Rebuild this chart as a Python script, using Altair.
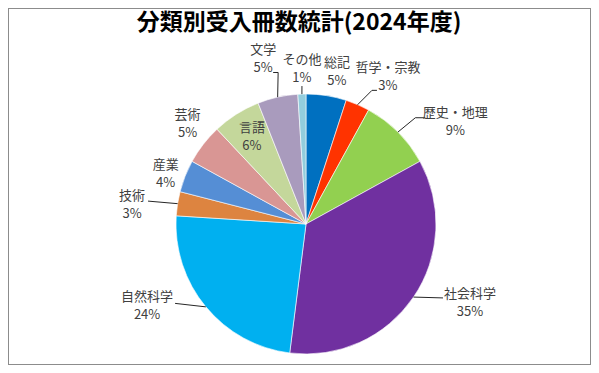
import math
import altair as alt
import pandas as pd

# ---- data ----
categories = ["総記", "哲学・宗教", "歴史・地理", "社会科学", "自然科学", "技術",
              "産業", "芸術", "言語", "文学", "その他"]
shares = [5, 3, 9, 35, 24, 3, 4, 5, 6, 5, 1]
pct_labels = ["5%", "3%", "9%", "35%", "24%", "3%", "4%", "5%", "6%", "5%", "1%"]
title_text = "分類別受入冊数統計(2024年度)"

# ---- style / layout ----
colors = ["#0070C0", "#FF3300", "#92D050", "#7030A0", "#00B0F0", "#DD8440",
          "#558ED5", "#D99694", "#C4D79B", "#A99BBD", "#93CDDD"]
W, H = 583, 357
OFF = 8
CX, CY, R = 306 - OFF, 224 - OFF, 130
LH = 18
label_r = [155, 168, 181, 182, 179, 175, 149, 155, 102, 170, 155]
label_nudge = [2.5, 5.8, 10.6, -8.5, 12.2, -2.8, -2.0, 2.4, 0.4, -2.0, 0.3]
leader_pts = {
    "哲学・宗教": [(-16, 13), (-11, 13)],
    "歴史・地理": [(-40, -4), (-30, -4)],
    "社会科学": [(-27, -5)],
    "自然科学": [(28, -3)],
    "技術": [(16, -4)],
    "文学": [(15, 13), (10, 13)],
    "その他": [(0, 17)],
}
FONT = "Noto Sans CJK JP"
TXT = "#404040"

total = sum(shares)
rows, lrows, seg = [], [], []
cum = 0.0
for i, (c, v) in enumerate(zip(categories, shares)):
    mid = (cum + v / 2) / total * 360.0
    cum += v
    rows.append({"cat": c, "val": v, "ord": i})
    a = math.radians(mid + label_nudge[i])
    lx = CX + label_r[i] * math.sin(a)
    ly = CY - label_r[i] * math.cos(a)
    lrows.append({"cat": c, "txt": c + "\n" + pct_labels[i], "lx": lx, "ly": ly - LH / 2})
    if c in leader_pts:
        am = math.radians(mid)
        px, py = CX + R * math.sin(am), CY - R * math.cos(am)
        for ox, oy in leader_pts[c]:
            qx, qy = lx + ox, ly + oy
            seg.append({"x": px, "y": py, "x2": qx, "y2": qy})
            px, py = qx, qy

df = pd.DataFrame(rows)
ldf = pd.DataFrame(lrows)
sdf = pd.DataFrame(seg)

pie = alt.Chart(df).mark_arc(radius=R, stroke="#ffffff", strokeWidth=0.6).encode(
    theta=alt.Theta("val:Q", stack=True),
    order=alt.Order("ord:Q"),
    color=alt.Color("cat:N", scale=alt.Scale(domain=categories, range=colors), legend=None),
    x=alt.value(CX),
    y=alt.value(CY),
)

leaders = alt.Chart(sdf).mark_rule(color="#262626", strokeWidth=1).encode(
    x=alt.X("x:Q", scale=None),
    y=alt.Y("y:Q", scale=None),
    x2="x2:Q",
    y2="y2:Q",
)

labels = alt.Chart(ldf).mark_text(
    font=FONT, fontSize=13, color=TXT, lineBreak="\n", lineHeight=LH,
    align="center", baseline="middle",
).encode(
    x=alt.X("lx:Q", scale=None),
    y=alt.Y("ly:Q", scale=None),
    text="txt:N",
)

title = alt.Chart(pd.DataFrame({"t": [title_text]})).mark_text(
    font=FONT, fontSize=23, fontWeight="bold", color="#000000",
    align="center", baseline="middle",
).encode(
    x=alt.value(299 - OFF),
    y=alt.value(23 - OFF),
    text="t:N",
)

chart = alt.layer(pie, leaders, labels, title).properties(
    width=W, height=H, padding=0, autosize="none",
).configure_view(stroke="#8c8c8c", strokeWidth=2)

chart.save("out.html", embed_options={"renderer": "svg", "actions": False})
